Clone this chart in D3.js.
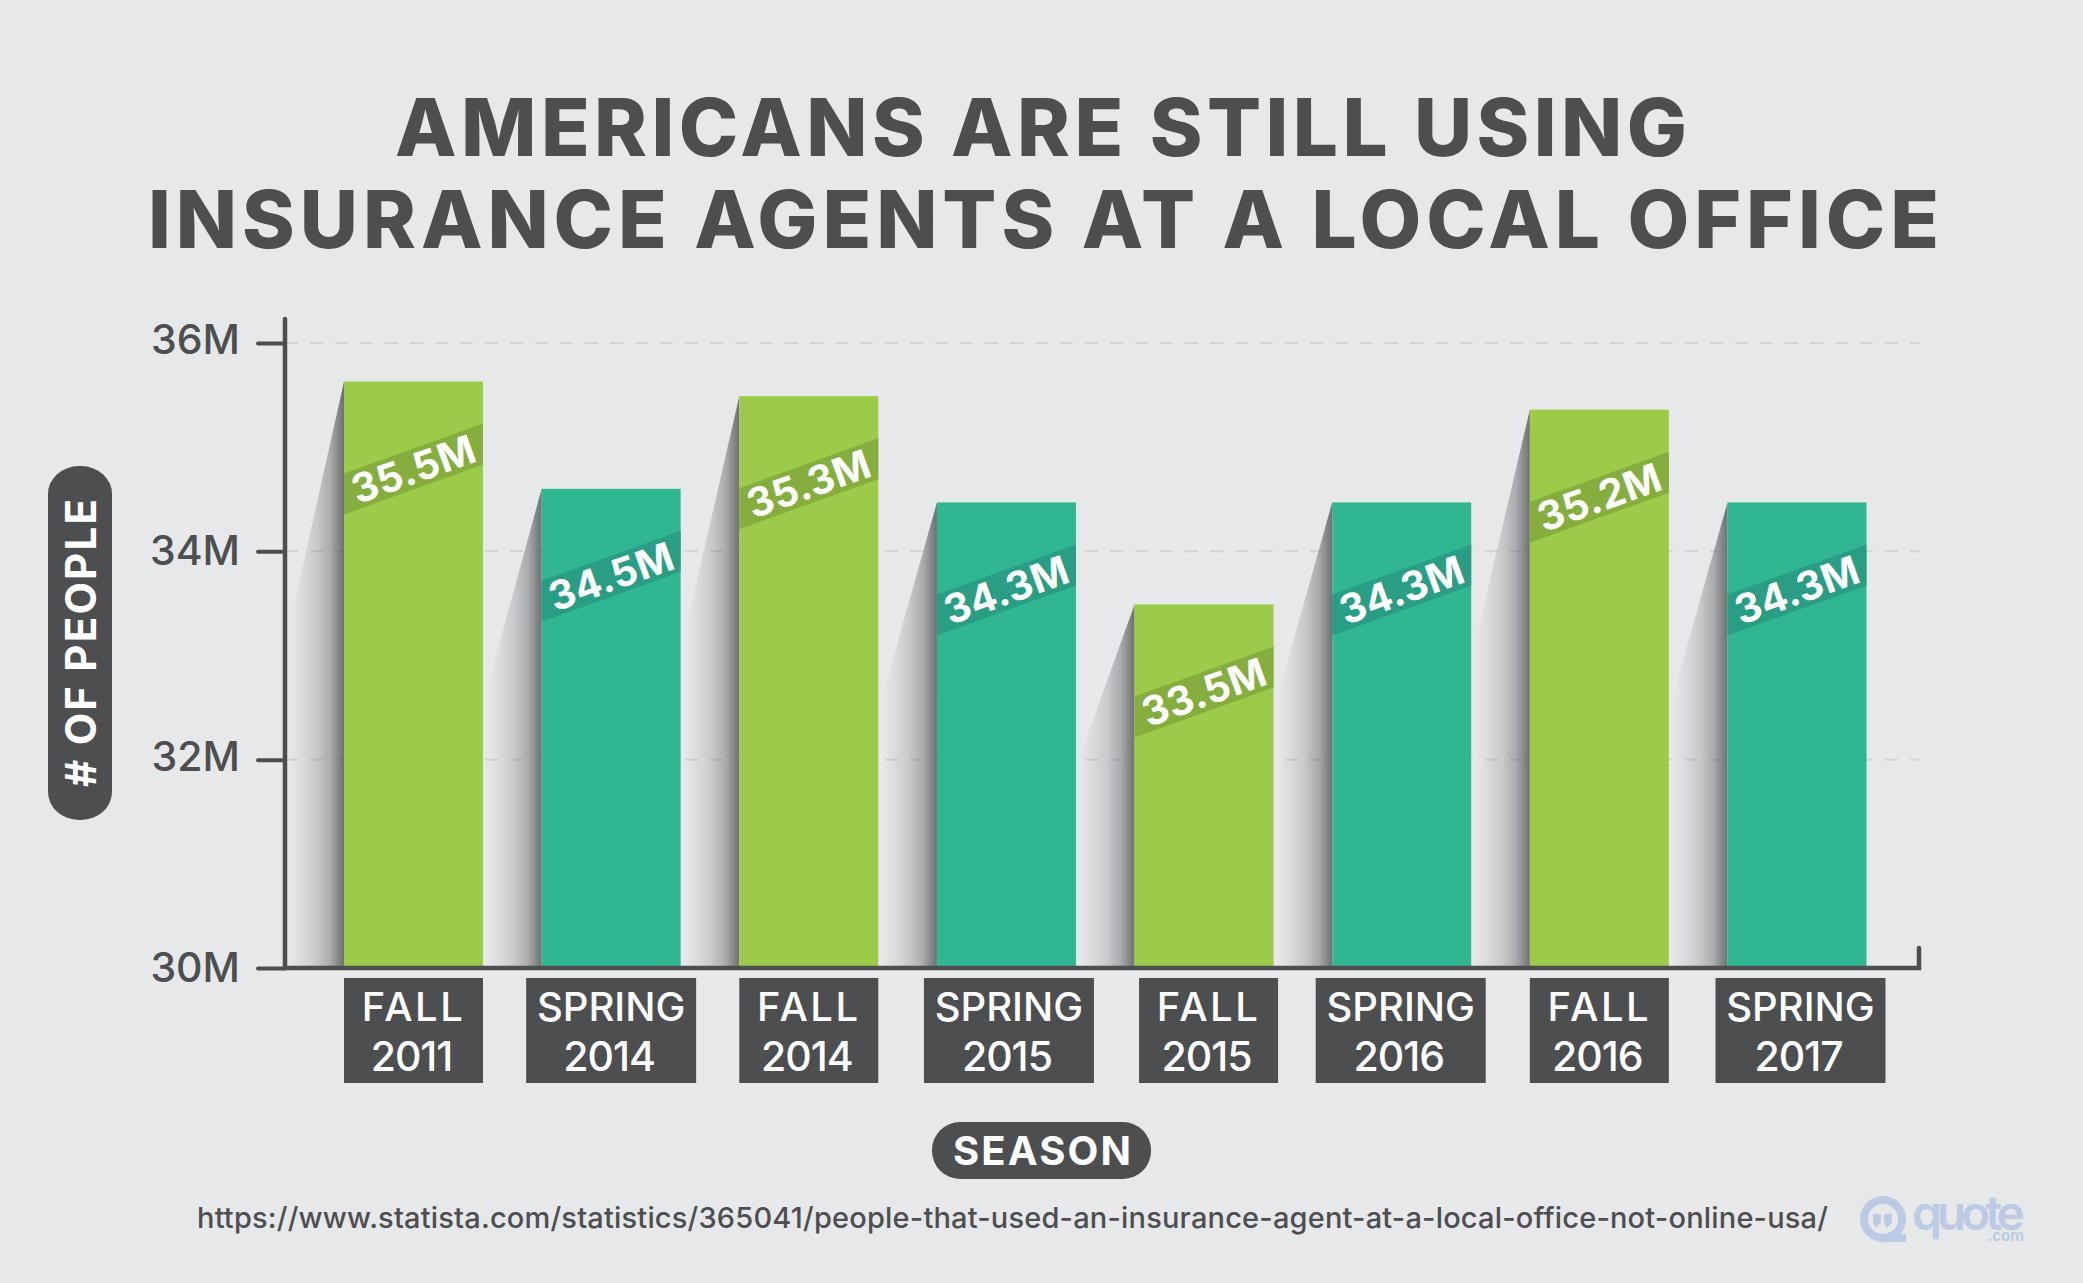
<!DOCTYPE html>
<html>
<head>
<meta charset="utf-8">
<script src="https://cdn.jsdelivr.net/npm/d3@7/dist/d3.min.js"></script>
<style>
  html, body { margin: 0; padding: 0; background: #e7e8ea; }
  svg { display: block; }
  text { font-family: Inter, "Noto Sans", sans-serif; }
</style>
</head>
<body>
<div id="chart"></div>
<script>
// data
const seasons = ['FALL','SPRING','FALL','SPRING','FALL','SPRING','FALL','SPRING'];
const years = ['2011','2014','2014','2015','2015','2016','2016','2017'];
// drawn bar heights do not quite agree with the printed labels in the original
const barValues = [35.63, 34.6, 35.49, 34.47, 33.49, 34.47, 35.36, 34.47];
const barLabels = ['35.5M','34.5M','35.3M','34.3M','33.5M','34.3M','35.2M','34.3M'];
const yTicks = [30, 32, 34, 36];
const titleLines = ['AMERICANS ARE STILL USING', 'INSURANCE AGENTS AT A LOCAL OFFICE'];
const sourceUrl = 'https://www.statista.com/statistics/365041/people-that-used-an-insurance-agent-at-a-local-office-not-online-usa/';

const W = 2083, H = 1283;
const DARK = '#4d4e50';
const FILL = { FALL: '#9bcb48', SPRING: '#30b792' };
const BAND = { FALL: '#85ae3f', SPRING: '#2a9e85' };
const BOX_W = { FALL: 139, SPRING: 170 };
const SEASON_SPACING = { FALL: 2.5, SPRING: 0 };
// the season boxes are not quite centred under every bar
const boxNudge = [0, 0, 0, 2.5, 4.5, -1, 0, 3.5];
// same for the tick labels, keyed by tick value
const tickNudge = { 30: 0, 32: -2.2, 34: 0, 36: -2.7 };

const svg = d3.select('#chart').append('svg').attr('width', W).attr('height', H);
svg.append('rect').attr('width', W).attr('height', H).attr('fill', '#e7e8ea');

// shadow gradient, horizontal inside each shadow polygon
const grad = svg.append('defs').append('linearGradient').attr('id', 'shade');
[[0, 0], [0.25, 0.09], [0.5, 0.2], [0.75, 0.4], [1, 0.78]].forEach(s => {
  grad.append('stop').attr('offset', s[0]).attr('stop-color', DARK).attr('stop-opacity', s[1]);
});

const keys = seasons.map((s, i) => s + ' ' + years[i]);
const x = d3.scaleBand().domain(keys).range([344, 1866.5]).paddingInner(0.2967).paddingOuter(0);
const y = d3.scaleLinear().domain([30, 36]).range([968, 343]);
const bw = x.bandwidth();
const AXIS_X = 285, AXIS_R = 1919;

// title
svg.selectAll('.title').data(titleLines).join('text')
  .attr('class', 'title')
  .attr('x', (d, i) => [1041, 1043.5][i]).attr('y', (d, i) => [156, 248][i])
  .attr('text-anchor', 'middle').attr('fill', DARK)
  .attr('font-size', 80).attr('font-weight', 800)
  .attr('textLength', (d, i) => [1292, 1791][i])
  .text(d => d);

// gridlines
svg.append('g').selectAll('line').data(yTicks.slice(1)).join('line')
  .attr('x1', AXIS_X).attr('x2', AXIS_R)
  .attr('y1', d => y(d)).attr('y2', d => y(d))
  .attr('stroke', '#d3d4d6').attr('stroke-width', 2).attr('stroke-dasharray', '13 12');

const bars = svg.append('g').selectAll('g').data(keys).join('g');

// shadow falls to the left, its tip reaches about 42% down the bar
bars.append('path')
  .attr('fill', 'url(#shade)')
  .attr('d', (k, i) => {
    const l = x(k), t = y(barValues[i]), b = y(30);
    return d3.line()([[l, t], [l - 55, t + (b - t) * 0.42], [l - 55, b], [l, b]]) + 'Z';
  });

bars.append('rect')
  .attr('x', k => x(k)).attr('width', bw)
  .attr('y', (k, i) => y(barValues[i]))
  .attr('height', (k, i) => y(30) - y(barValues[i]) - 2)
  .attr('fill', (k, i) => FILL[seasons[i]]);

// slanted ribbon across each bar
bars.append('path')
  .attr('fill', (k, i) => BAND[seasons[i]])
  .attr('d', (k, i) => {
    const l = x(k), t = y(barValues[i]);
    return d3.line()([[l, t + 92], [l + bw, t + 42], [l + bw, t + 83], [l, t + 133]]) + 'Z';
  });

bars.append('text')
  .attr('transform', (k, i) => `translate(${x(k) + bw / 2},${y(barValues[i]) + 87.5}) rotate(-19.8)`)
  .attr('text-anchor', 'middle').attr('dy', '0.36em')
  .attr('fill', '#fff').attr('font-size', 40).attr('font-weight', 700)
  .attr('letter-spacing', 0.5)
  .text((k, i) => barLabels[i]);

// y axis
const yAxis = d3.axisLeft(y).tickValues(yTicks).tickSize(27).tickPadding(18).tickFormat(d => d + 'M');
const gy = svg.append('g').attr('transform', `translate(${AXIS_X},0)`).call(yAxis);
gy.select('.domain').remove();
gy.selectAll('line').attr('stroke', DARK).attr('stroke-width', 4).attr('stroke-linecap', 'round');
gy.selectAll('text').attr('fill', DARK).attr('font-size', 41).attr('font-weight', 500)
  .attr('y', d => tickNudge[d])
  .style('font-family', 'Inter');

// axis frame
svg.append('path')
  .attr('d', d3.line()([[AXIS_X, y(36) - 24], [AXIS_X, y(30)], [1919, y(30)], [1919, 948]]))
  .attr('fill', 'none').attr('stroke', DARK).attr('stroke-width', 4.5)
  .attr('stroke-linecap', 'round').attr('stroke-linejoin', 'miter');

// season boxes under the bars
const boxes = svg.append('g').selectAll('g').data(keys).join('g')
  .attr('transform', (k, i) => `translate(${x(k) + bw / 2 + boxNudge[i]},0)`);
boxes.append('rect')
  .attr('x', (k, i) => -BOX_W[seasons[i]] / 2).attr('width', (k, i) => BOX_W[seasons[i]])
  .attr('y', 978).attr('height', 105).attr('fill', DARK);
boxes.append('text').attr('y', 1021).attr('text-anchor', 'middle')
  .attr('fill', '#fff').attr('font-size', 40).attr('font-weight', 500)
  .attr('letter-spacing', (k, i) => SEASON_SPACING[seasons[i]])
  .text((k, i) => seasons[i]);
boxes.append('text').attr('y', 1071).attr('x', -2).attr('text-anchor', 'middle')
  .attr('fill', '#fff').attr('font-size', 41).attr('font-weight', 500)
  .attr('letter-spacing', -1)
  .text((k, i) => years[i]);

// axis title pills
svg.append('rect').attr('x', 48).attr('y', 466).attr('width', 64).attr('height', 354)
  .attr('rx', 31).attr('ry', 28).attr('fill', DARK);
svg.append('text').attr('transform', 'translate(96,643) rotate(-90)')
  .attr('text-anchor', 'middle').attr('fill', '#fff')
  .attr('font-size', 42).attr('font-weight', 700).attr('textLength', 288)
  .text('# OF PEOPLE');

svg.append('rect').attr('x', 932).attr('y', 1122).attr('width', 219).attr('height', 57)
  .attr('rx', 28).attr('fill', DARK);
svg.append('text').attr('x', 1042).attr('y', 1165).attr('text-anchor', 'middle')
  .attr('fill', '#fff').attr('font-size', 40).attr('font-weight', 700).attr('textLength', 178)
  .text('SEASON');

// source line
svg.append('text').attr('x', 197).attr('y', 1228)
  .attr('fill', DARK).attr('font-size', 29).attr('font-weight', 500).attr('textLength', 1631)
  .text(sourceUrl);

// logo
const LOGO = '#bccbe3';
const logo = svg.append('g');
logo.append('circle').attr('cx', 1883).attr('cy', 1219).attr('r', 19)
  .attr('fill', 'none').attr('stroke', LOGO).attr('stroke-width', 8);
logo.append('path').attr('d', 'M1883,1234 L1906,1234 L1906,1242 L1883,1242 Z').attr('fill', LOGO);
logo.append('path').attr('d', 'M1873,1214 h8 v8 l-4,5 h-2 l-2,-5 Z M1884,1214 h8 v8 l-4,5 h-2 l-2,-5 Z').attr('fill', LOGO);
logo.append('text').attr('x', 1912).attr('y', 1230)
  .attr('fill', LOGO).attr('font-size', 48).attr('font-weight', 600).attr('textLength', 113)
  .text('quote');
logo.append('text').attr('x', 2024).attr('y', 1241).attr('text-anchor', 'end')
  .attr('fill', LOGO).attr('font-size', 15).attr('font-weight', 700)
  .text('.com');
</script>
</body>
</html>
